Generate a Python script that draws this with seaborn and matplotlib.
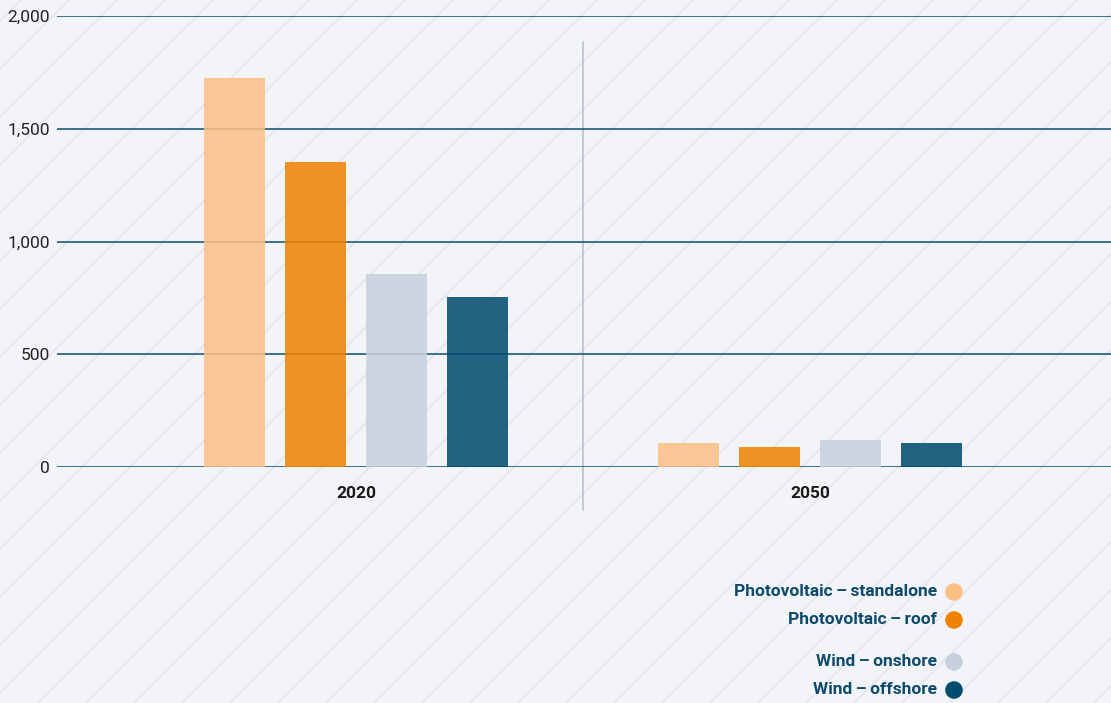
import numpy as np
import pandas as pd
import matplotlib
matplotlib.use("Agg")
import matplotlib.pyplot as plt
import seaborn as sns

# Data
years = ["2020", "2050"]
technologies = ["Photovoltaic\u2009–\u2009standalone", "Photovoltaic\u2009–\u2009roof",
                "Wind\u2009–\u2009onshore", "Wind\u2009–\u2009offshore"]
pv_standalone = [1725, 108]
pv_roof = [1353, 90]
wind_onshore = [858, 121]
wind_offshore = [754, 108]
y_ticks = [0, 500, 1000, 1500, 2000]

colors = ["#fbbf86", "#ef8200", "#c7d0dc", "#004b6e"]
bg = "#f3f4f8"
grid_col = "#1d5a7c"
legend_text_col = "#0d4a6b"

df = pd.DataFrame({
    "year": years * 4,
    "tech": [t for t in technologies for _ in years],
    "value": pv_standalone + pv_roof + wind_onshore + wind_offshore,
})

sns.set_theme(style="white")
plt.rcParams["font.family"] = ["Roboto", "DejaVu Sans"]

W, H = 1111, 703
fig = plt.figure(figsize=(W / 100, H / 100), dpi=100, facecolor=bg)

# Diagonal background stripes
bg_ax = fig.add_axes([0, 0, 1, 1], zorder=-5)
bg_ax.set_xlim(0, W)
bg_ax.set_ylim(0, H)
bg_ax.axis("off")
for c in np.arange(-W - H, W + H, 48):
    bg_ax.plot([0, W], [c, c + W], color="#e6e8ee", lw=1.6, solid_capstyle="butt")

ax = fig.add_axes([57 / W, 1 - 467 / H, 1 - 57 / W, (467 - 16) / H])
ax.set_facecolor("none")

sns.barplot(data=df, x="year", y="value", hue="tech", hue_order=technologies,
            palette=colors, alpha=0.86, width=0.713, gap=0.25,
            saturation=1, ax=ax, legend=False, zorder=3,
            linewidth=0, edgecolor="none")

ax.set_xlim(-0.659, 1.663)
ax.set_ylim(0, 2000)
ax.set_yticks(y_ticks)
ax.set_yticklabels([f"{v:,}" for v in y_ticks])
for v in y_ticks:
    ax.axhline(v, color=grid_col, lw=1.2, zorder=1)

for s in ax.spines.values():
    s.set_visible(False)
ax.set_xlabel("")
ax.set_ylabel("")
ax.tick_params(axis="y", length=0, pad=5, labelsize=12.5, labelcolor="#222222")
ax.tick_params(axis="x", length=0, pad=14, labelsize=12.5, labelcolor="#1a1a1a")
for lbl in ax.get_xticklabels():
    lbl.set_fontweight("bold")

# Separator between the two years
ax.plot([0.5, 0.5], [-191, 1885], color="#c2c9d3", lw=1.4, clip_on=False, zorder=0)

# Legend
leg_rows = [592, 620, 662, 690]
for label, col, yp in zip(technologies, colors, leg_rows):
    fig.text(937 / W, 1 - yp / H, label, ha="right", va="center",
             fontsize=12.5, fontweight="bold", color=legend_text_col)
    bg_ax.scatter([954], [H - yp], s=160, color=col, edgecolors="none", zorder=5)

fig.savefig("out.png", dpi=100, facecolor=bg)
